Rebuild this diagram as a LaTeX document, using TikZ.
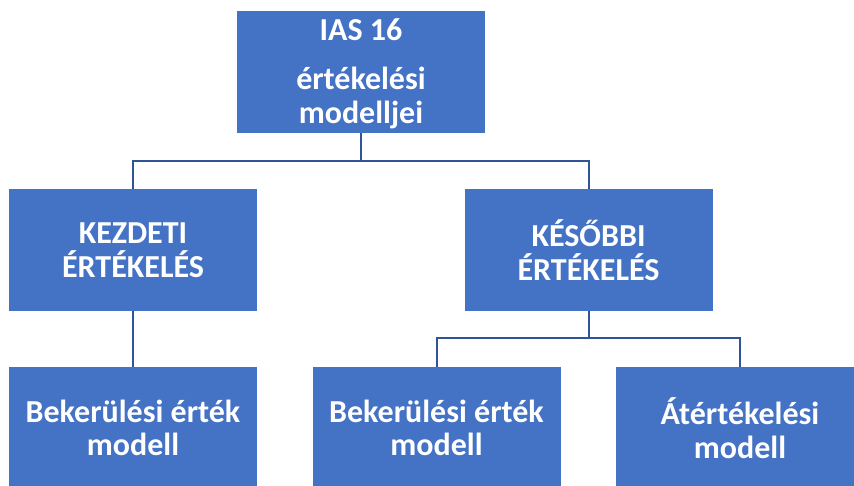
\documentclass[tikz,border=0pt]{standalone}
\usepackage{fontspec}
\setmainfont{Carlito}
\definecolor{boxblue}{HTML}{4472C4}
\definecolor{linkblue}{HTML}{2F5597}
\begin{document}
\begin{tikzpicture}[x=1pt,y=-1pt,
  boxfont/.style={font=\fontsize{32}{33.5}\selectfont\bfseries},
  orgbox/.style={fill=boxblue,draw=none,minimum width=248pt,minimum height=122pt,inner sep=0pt,
    text=white,align=center,boxfont},
  link/.style={draw=linkblue,line width=2pt}]
\useasboundingbox (0,0) rectangle (854,485);
\clip (0,0) rectangle (854,485);
\fill[white] (0,0) rectangle (854,485);
\node[orgbox] (top) at (361,72) {};
\node[text=white,align=center,boxfont,inner sep=0pt] (toptext) at (361,74) {IAS 16\\[15.5pt]értékelési\\modelljei};
\node[orgbox] (kez) at (133,250) {KEZDETI\\ÉRTÉKELÉS};
\node[orgbox] (kes) at (588.5,250) {KÉSŐBBI\\ÉRTÉKELÉS};
\node[orgbox] (bl) at (133,428) {Bekerülési érték\\modell};
\node[orgbox] (bm) at (436.5,428) {Bekerülési érték\\modell};
\node[orgbox] (br) at (740,428) {Átértékelési\\modell};
\coordinate (j1) at (361,161);
\coordinate (j2) at (588.5,338);
\draw[link] (top.south) -- (j1) -| (kez.north);
\draw[link] (j1) -| (kes.north);
\draw[link] (kez.south) -- (bl.north);
\draw[link] (kes.south) -- (j2) -| (bm.north);
\draw[link] (j2) -| (br.north);
\end{tikzpicture}
\end{document}
